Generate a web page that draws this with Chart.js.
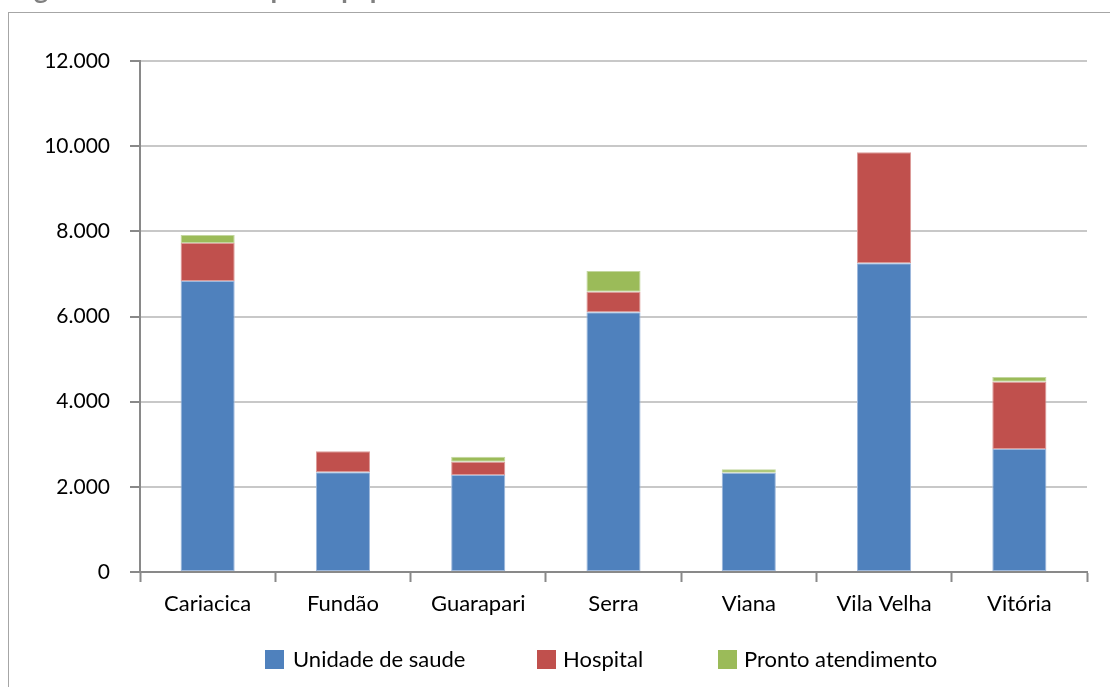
<!DOCTYPE html>
<html>
<head>
<meta charset="utf-8">
<script src="https://cdn.jsdelivr.net/npm/chart.js@4.4.0/dist/chart.umd.min.js"></script>
<style>
  html, body { margin: 0; padding: 0; background: #fff; }
  #wrap { position: relative; width: 1110px; height: 687px; overflow: hidden; }
  #frame { position: absolute; left: 8px; top: 12px; width: 1300px; height: 900px; border: 1px solid #a6a6a6; box-sizing: border-box; }
  #c { position: absolute; left: 0; top: 0; }
  #legend { position: absolute; left: 0; top: 0; width: 1110px; height: 687px; pointer-events: none; font-family: Lato, sans-serif; font-size: 22px; color: #000; }
  .lg-box { position: absolute; width: 19px; height: 19px; top: 650px; }
  .lg-txt { position: absolute; top: 645px; line-height: 27px; white-space: nowrap; }
</style>
</head>
<body>
<div id="wrap">
  <div id="frame"></div>
  <canvas id="c" width="1110" height="687"></canvas>
  <div id="legend"></div>
</div>
<script>
// ---- data ----
const titleText = 'Figura 3 - Habitantes por equipamento de Saúde';
const categories = ['Cariacica', 'Fundão', 'Guarapari', 'Serra', 'Viana', 'Vila Velha', 'Vitória'];
const seriesNames = ['Unidade de saude', 'Hospital', 'Pronto atendimento'];
const unidadeSaude = [6835, 2342, 2278, 6100, 2332, 7251, 2889];
const hospital = [893, 493, 313, 484, 0, 2607, 1581];
const prontoAtendimento = [187, 0, 117, 486, 80, 0, 110];
const yTicks = [0, 2000, 4000, 6000, 8000, 10000, 12000];

// ---- styles ----
const colors = ['#4F81BD', '#C0504D', '#9BBB59'];
const borders = ['#9db8dc', '#dc9a98', '#c3d79f'];
const legendBoxX = [265, 537, 718];
const legendTxtX = [293, 563, 744];

const fmt = v => String(v).replace(/\B(?=(\d{3})+(?!\d))/g, '.');

const titlePlugin = {
  id: 'clippedTitle',
  afterDraw(chart) {
    const ctx = chart.ctx;
    ctx.save();
    ctx.font = 'bold 27px Lato';
    ctx.fillStyle = '#808080';
    ctx.textBaseline = 'alphabetic';
    ctx.textAlign = 'left';
    ctx.fillText(titleText, 12, -1);
    ctx.restore();
  }
};

const seriesData = [unidadeSaude, hospital, prontoAtendimento];

new Chart(document.getElementById('c'), {
  type: 'bar',
  data: {
    labels: categories,
    datasets: seriesData.map((d, i) => ({
      label: seriesNames[i],
      data: d,
      backgroundColor: colors[i],
      borderColor: borders[i],
      borderWidth: 1,
      borderSkipped: false,
      barPercentage: 0.4,
      categoryPercentage: 1.0
    }))
  },
  options: {
    responsive: false,
    animation: false,
    layout: { padding: { left: 0, right: 23, top: 61, bottom: 0 } },
    plugins: {
      legend: { display: false },
      tooltip: { enabled: false },
      title: { display: false }
    },
    scales: {
      x: {
        stacked: true,
        grid: {
          display: true,
          drawOnChartArea: false,
          drawTicks: true,
          tickLength: 10,
          tickColor: '#898989',
          tickWidth: 2,
          offset: true
        },
        border: { color: '#898989', width: 2 },
        ticks: {
          padding: 9,
          color: '#000',
          font: { family: 'Lato', size: 22 },
          maxRotation: 0
        },
        afterFit(scale) { scale.height = 115; }
      },
      y: {
        stacked: true,
        min: 0,
        max: 12000,
        afterBuildTicks(scale) { scale.ticks = yTicks.map(v => ({ value: v })); },
        grid: {
          color: '#c8c8c8',
          lineWidth: 2,
          drawTicks: true,
          tickLength: 10,
          tickColor: '#898989',
          tickWidth: 2
        },
        border: { color: '#898989', width: 2 },
        ticks: {
          padding: 20,
          color: '#000',
          font: { family: 'Lato', size: 21 },
          callback: v => fmt(v)
        },
        afterFit(scale) { scale.width = 140; }
      }
    }
  },
  plugins: [titlePlugin]
});

// ---- legend (HTML, built from series arrays) ----
const lg = document.getElementById('legend');
seriesNames.forEach((name, i) => {
  const b = document.createElement('div');
  b.className = 'lg-box';
  b.style.left = legendBoxX[i] + 'px';
  b.style.background = colors[i];
  lg.appendChild(b);
  const t = document.createElement('div');
  t.className = 'lg-txt';
  t.style.left = legendTxtX[i] + 'px';
  t.textContent = name;
  lg.appendChild(t);
});
</script>
</body>
</html>
